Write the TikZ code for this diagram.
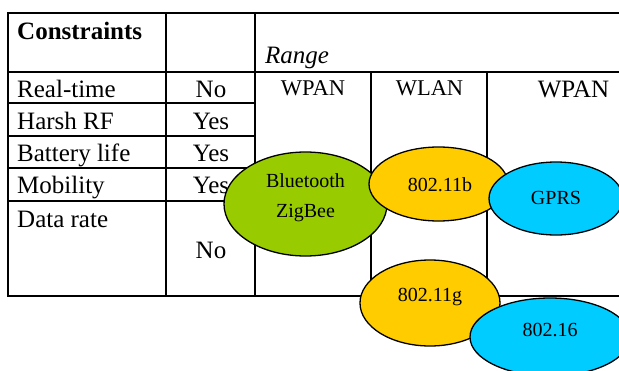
\documentclass[tikz,border=0pt]{standalone}
\usepackage{fontspec}
\setmainfont{Liberation Serif}
\usetikzlibrary{shapes.geometric}
\definecolor{leafgreen}{HTML}{99CC00}
\definecolor{amber}{HTML}{FFCC00}
\definecolor{skyblue}{HTML}{00CCFF}
\begin{document}
\begin{tikzpicture}[
        x=1pt, y=-1pt,
        rule/.style={
        line width=2pt
      },
      cell/.style={
        inner sep=0pt,
        font=\fontsize{25}{30}\selectfont
      },
      net/.style={
        inner sep=0pt,
        font=\fontsize{22.5}{27}\selectfont
      },
      bubble/.style={
        ellipse,
        draw,
        line width=1.3pt,
        inner sep=0pt
      },
      tag/.style={
        inner sep=0pt,
        font=\fontsize{20}{24}\selectfont
      }
    ]

    \useasboundingbox (0, 0) rectangle (619, 370);
    \clip (0, 0) rectangle (619, 370);

    \draw[rule] (619, 13) -- (8, 13) -- (8, 296) -- (619, 296);
    \draw[rule] (8, 72) -- (619, 72);
    \draw[rule] (8, 103) -- (255, 103);
    \draw[rule] (8, 136) -- (255, 136);
    \draw[rule] (8, 168) -- (255, 168);
    \draw[rule] (8, 201) -- (255, 201);

    \draw[rule] (166, 13) -- (166, 296);
    \draw[rule] (255, 13) -- (255, 296);
    \draw[rule] (371, 72) -- (371, 296);
    \draw[rule] (487, 72) -- (487, 296);

    \node[cell, font=\fontsize{25}{30}\selectfont\bfseries, anchor=base west] (con) at (17, 39) {Constraints};
    \node[cell, font=\fontsize{25}{30}\selectfont\itshape, anchor=base] (rng) at (297, 63) {Range};

    \node[cell, anchor=base west] (rt) at (17, 97) {Real-time};
    \node[cell, anchor=base west] (rf) at (17, 129) {Harsh RF};
    \node[cell, anchor=base west] (bat) at (17, 161) {Battery life};
    \node[cell, anchor=base west] (mob) at (17, 193) {Mobility};
    \node[cell, anchor=base west] (dr) at (17, 227) {Data rate};

    \node[cell, anchor=base] (rt_v) at (211, 97) {No};
    \node[cell, anchor=base] (rf_v) at (211, 129) {Yes};
    \node[cell, anchor=base] (bat_v) at (211, 161) {Yes};
    \node[cell, anchor=base] (mob_v) at (211, 193) {Yes};
    \node[cell, anchor=base] (dr_v) at (211, 258) {No};

    \node[net, anchor=base] (pan1) at (313, 95) {WPAN};
    \node[net, anchor=base] (lan) at (429.5, 95) {WLAN};
    \node[cell, anchor=base] (pan2) at (573.5, 97) {WPAN};

    % bubbles, back to front
    \node[bubble, fill=leafgreen, minimum width=163pt, minimum height=104pt] (bt) at (305.5, 204) {};
    \node[tag, anchor=base] (bt1) at (305.5, 187) {Bluetooth};
    \node[tag, anchor=base] (bt2) at (305.5, 217) {ZigBee};

    \node[bubble, fill=amber, minimum width=139pt, minimum height=74pt] (b) at (438.5, 184) {};
    \node[tag, anchor=base] (b_t) at (440, 191) {802.11b};

    \node[bubble, fill=skyblue, minimum width=134pt, minimum height=73pt] (gprs) at (556, 198.5) {};
    \node[tag, anchor=base] (gprs_t) at (556, 204) {GPRS};

    \node[bubble, fill=amber, minimum width=140pt, minimum height=86pt] (g) at (430, 303) {};
    \node[tag, anchor=base] (g_t) at (430, 301) {802.11g};

    \node[bubble, fill=skyblue, minimum width=160pt, minimum height=78pt] (wmx) at (550, 337) {};
    \node[tag, anchor=base] (wmx_t) at (550, 336) {802.16};

  \end{tikzpicture}
\end{document}
